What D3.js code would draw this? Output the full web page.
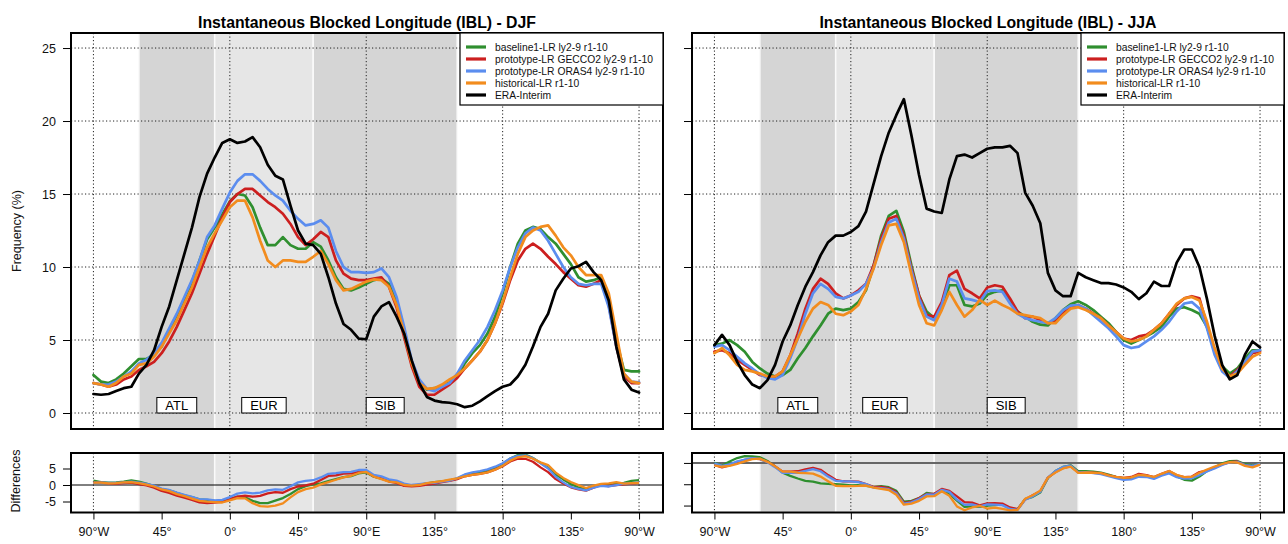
<!DOCTYPE html>
<html>
<head>
<meta charset="utf-8">
<script src="https://cdn.jsdelivr.net/npm/d3@7"></script>
<style>
  body { margin: 0; background: #fff; }
  svg { display: block; font-family: "Liberation Sans", Arial, Helvetica, sans-serif; }
</style>
</head>
<body>
<svg id="chart" width="1288" height="544"></svg>
<script>
// Longitude grid of the IBL curves: 90°W eastward round to 90°W, every 5°
const lon = d3.range(-90, 275, 5);

// Winter (DJF) blocking frequency, %
const djfBaseline = [2.6,2.15,2.05,2.3,2.7,3.2,3.7,3.7,4.0,4.55,
  5.7,6.7,7.8,9.0,10.45,11.9,12.7,13.6,14.5,15.0,
  14.9,14.1,12.7,11.5,11.5,12.05,11.5,11.25,11.25,11.7,
  11.4,10.45,9.3,8.5,8.4,8.6,8.85,9.1,9.2,8.85,
  7.6,5.45,3.4,2.05,1.6,1.7,1.85,2.1,2.5,3.4,
  4.1,4.65,5.45,6.6,8.2,10.0,11.6,12.5,12.75,12.6,
  12.05,11.6,10.9,10.2,9.3,9.0,9.1,9.3,7.7,5.0,
  2.95,2.85,2.85];
const djfGecco2 = [2.05,1.95,1.8,1.95,2.3,2.5,2.95,3.2,3.5,4.1,
  4.9,5.9,7.05,8.2,9.55,10.9,12.15,13.4,14.45,15.0,
  15.35,15.35,14.9,14.45,14.1,13.65,12.95,12.05,11.5,11.9,
  12.4,12.05,10.45,9.55,9.2,9.1,9.1,9.2,9.3,8.65,
  7.25,5.2,3.2,1.8,1.25,1.25,1.6,1.95,2.4,3.05,
  3.6,4.2,5.0,6.15,7.5,9.1,10.45,11.25,11.6,11.25,
  10.7,10.2,9.65,9.2,8.75,8.65,8.85,9.1,7.4,4.55,
  2.5,2.05,2.05];
const djfOras4 = [2.05,1.95,1.95,2.15,2.5,2.85,3.4,3.65,4.1,4.8,
  5.8,6.8,7.95,9.1,10.45,12.05,12.85,14.0,15.1,15.9,
  16.35,16.35,15.9,15.35,14.9,14.55,13.85,13.3,12.85,12.95,
  13.2,12.7,11.1,10.0,9.65,9.65,9.6,9.65,9.9,9.3,
  7.95,5.9,3.6,2.3,1.65,1.5,1.8,2.05,2.7,3.6,
  4.3,5.0,5.9,7.05,8.4,10.0,11.35,12.3,12.7,12.5,
  11.8,10.9,10.0,9.3,8.85,8.75,8.85,8.85,7.25,4.55,
  2.7,2.15,2.1];
const djfHistorical = [2.05,1.95,1.8,2.05,2.5,2.7,3.3,3.4,3.85,4.55,
  5.45,6.35,7.5,8.6,10.0,11.35,12.3,13.2,14.1,14.55,
  14.55,13.4,11.8,10.45,10.0,10.45,10.45,10.35,10.35,10.7,
  11.1,10.2,9.1,8.4,8.5,8.75,9.0,9.15,9.1,8.65,
  7.4,5.45,3.4,2.05,1.65,1.7,1.95,2.3,2.6,3.05,
  3.6,4.2,5.0,6.15,7.6,9.3,10.9,12.05,12.5,12.75,
  12.85,12.15,11.35,10.8,10.0,9.45,9.45,9.45,8.2,5.45,
  2.7,2.15,2.05];
const djfEra = [1.3,1.25,1.3,1.5,1.7,1.8,2.7,3.3,4.3,5.9,
  7.3,9.1,10.9,12.7,14.8,16.4,17.5,18.5,18.75,18.5,
  18.6,18.9,18.2,17.0,16.25,16.0,14.2,12.5,11.6,11.5,
  10.9,9.3,7.5,6.1,5.7,5.1,5.05,6.6,7.3,7.6,
  6.6,5.45,3.6,2.05,1.1,0.85,0.75,0.7,0.6,0.4,
  0.5,0.8,1.15,1.5,1.8,1.95,2.5,3.3,4.55,5.9,
  6.8,8.4,9.2,9.9,10.05,10.35,9.65,9.1,7.7,4.55,
  2.3,1.6,1.4];

// Summer (JJA) blocking frequency, %
const jjaBaseline = [4.65,4.75,5.0,4.65,4.2,3.5,3.05,2.7,2.5,2.6,
  2.95,3.75,4.45,5.25,6.0,6.8,7.15,7.05,7.15,7.6,
  8.4,10.1,12.15,13.5,13.85,12.4,10.1,8.05,6.95,6.5,
  7.15,8.75,8.75,7.4,7.3,7.5,8.1,8.3,8.4,7.6,
  6.95,6.6,6.25,6.05,6.0,6.5,7.05,7.45,7.65,7.4,
  7.05,6.6,6.15,5.55,5.0,4.75,5.0,5.25,5.55,5.9,
  6.6,7.15,7.25,7.05,6.8,5.9,4.2,3.2,2.7,3.05,
  3.75,4.3,4.3];
const jjaGecco2 = [4.2,4.3,4.1,3.65,3.3,2.95,2.6,2.5,2.5,2.85,
  3.95,5.45,7.15,8.5,9.2,8.85,8.2,7.85,8.05,8.4,
  8.85,10.1,11.95,13.3,13.5,12.15,9.9,8.05,6.7,6.6,
  7.6,9.45,9.75,8.5,8.2,7.85,8.6,8.75,8.65,7.85,
  6.95,6.5,6.6,6.35,6.15,6.25,6.8,7.25,7.4,7.15,
  6.8,6.5,6.0,5.55,5.1,5.0,5.25,5.35,5.7,6.15,
  6.8,7.4,7.85,8.0,7.85,6.0,4.2,2.95,2.5,2.95,
  3.5,4.1,4.2];
const jjaOras4 = [4.55,4.65,4.3,3.85,3.4,3.05,2.65,2.4,2.3,2.6,
  3.75,5.1,6.8,8.2,8.85,8.5,7.95,7.85,8.05,8.3,
  8.85,9.9,11.7,13.05,13.3,11.95,9.75,7.85,6.6,6.35,
  7.4,9.2,9.0,7.85,7.75,7.6,8.35,8.4,8.3,7.5,
  6.8,6.5,6.35,6.25,6.15,6.5,7.05,7.35,7.4,7.15,
  6.7,6.25,5.8,5.25,4.65,4.45,4.55,4.9,5.25,5.7,
  6.25,6.95,7.5,7.6,7.15,5.8,4.0,2.85,2.4,2.85,
  3.5,4.2,4.3];
const jjaHistorical = [4.1,4.45,3.95,3.3,2.95,2.85,2.7,2.5,2.5,2.85,
  3.95,5.1,6.25,7.15,7.6,7.4,6.8,6.7,6.95,7.4,
  8.5,9.9,11.5,12.85,12.95,11.7,9.45,7.4,6.15,6.0,
  7.05,8.3,7.4,6.6,7.05,7.75,7.4,7.7,7.4,7.15,
  6.8,6.7,6.6,6.5,6.15,6.15,6.7,7.15,7.25,7.05,
  6.8,6.5,6.0,5.55,5.1,4.9,5.0,5.25,5.7,6.15,
  6.8,7.5,7.85,7.95,7.7,6.25,4.45,3.05,2.5,2.7,
  3.3,3.85,4.1];
const jjaEra = [4.65,5.35,4.65,3.5,2.6,1.95,1.7,2.25,3.3,4.9,
  6.0,7.4,8.65,9.65,10.8,11.7,12.15,12.15,12.4,12.8,
  13.8,15.7,17.6,19.2,20.4,21.5,19.0,16.3,14.0,13.8,
  13.7,16.0,17.6,17.7,17.5,17.8,18.1,18.2,18.2,18.3,
  17.8,15.1,14.2,13.0,9.6,8.4,8.0,8.0,9.6,9.3,
  9.1,8.9,8.9,8.8,8.6,8.3,7.8,8.2,9.0,8.7,
  8.7,10.3,11.2,11.2,10.0,7.8,5.3,3.3,2.3,2.6,
  4.0,4.9,4.5];

const seriesNames = ["baseline1-LR ly2-9 r1-10", "prototype-LR GECCO2 ly2-9 r1-10",
  "prototype-LR ORAS4 ly2-9 r1-10", "historical-LR r1-10", "ERA-Interim"];

// Sector boxes
const regionNames = ["ATL", "EUR", "SIB"];
const regionWest = [-60, -10, 55];
const regionEast = [-10, 55, 150];

// Axis ticks
const xTickLon = [-90, -45, 0, 45, 90, 135, 180, 225, 270];
const xTickLabels = ["90°W", "45°", "0°", "45°", "90°E", "135°", "180°", "135°", "90°W"];
const gridLon = [-90, 0, 90, 180, 270];
const yTicksMain = [0, 5, 10, 15, 20, 25];
const yTicksDiffDJF = [-5, 0, 5];
const yTicksDiffJJA = [-10, -5, 0];

const colors = ["#2f8f2f", "#cc1f1f", "#5b8def", "#f28c1e", "#000000"];
const regionFill = ["#d5d5d5", "#e6e6e6", "#d5d5d5"];

const svg = d3.select("#chart");
const FRAME_W = 592;
const MAIN_TOP = 33, MAIN_BOT = 429, DIFF_TOP = 453, DIFF_BOT = 512.5;

function drawPanel(p) {
  const left = p.left, right = left + FRAME_W;
  const x = d3.scaleLinear().domain([-104.8, 285.8]).range([left, right]);
  const y = d3.scaleLinear().domain([-1.096, 26.03]).range([MAIN_BOT, MAIN_TOP]);
  const yd = d3.scaleLinear().domain(p.diffDomain).range([DIFF_BOT, DIFF_TOP]);
  const g = svg.append("g");

  // clip regions for the curves
  const defs = svg.append("defs");
  defs.append("clipPath").attr("id", p.id + "-main")
    .append("rect").attr("x", left).attr("y", MAIN_TOP).attr("width", FRAME_W).attr("height", MAIN_BOT - MAIN_TOP);
  defs.append("clipPath").attr("id", p.id + "-diff")
    .append("rect").attr("x", left).attr("y", DIFF_TOP).attr("width", FRAME_W).attr("height", DIFF_BOT - DIFF_TOP);

  const panels = [
    { top: MAIN_TOP, bot: MAIN_BOT },
    { top: DIFF_TOP, bot: DIFF_BOT }
  ];

  // sector shading
  panels.forEach(pn => {
    g.append("g").selectAll("rect").data(regionNames).join("rect")
      .attr("x", (d, i) => x(regionWest[i]))
      .attr("width", (d, i) => x(regionEast[i]) - x(regionWest[i]))
      .attr("y", pn.top).attr("height", pn.bot - pn.top)
      .attr("fill", (d, i) => regionFill[i])
      .attr("stroke", "#fafafa").attr("stroke-width", 1.5);
  });

  // dotted grid
  const grid = g.append("g").attr("stroke", "#222").attr("stroke-width", 1)
    .attr("stroke-dasharray", "1.2,2.3").attr("fill", "none");
  grid.selectAll(".hg").data(yTicksMain).join("line")
    .attr("x1", left).attr("x2", right).attr("y1", d => y(d)).attr("y2", d => y(d));
  panels.forEach(pn => {
    grid.append("g").selectAll("line").data(gridLon).join("line")
      .attr("x1", d => x(d)).attr("x2", d => x(d)).attr("y1", pn.top).attr("y2", pn.bot);
  });

  // zero line of the difference panel
  g.append("line").attr("x1", left).attr("x2", right)
    .attr("y1", yd(0)).attr("y2", yd(0))
    .attr("stroke", p.zeroColor).attr("stroke-width", p.zeroWidth);

  // sector labels
  const lab = g.append("g");
  regionNames.forEach((name, i) => {
    const cx = x((regionWest[i] + regionEast[i]) / 2);
    const box = lab.append("rect").attr("fill", "#fff").attr("stroke", "#000").attr("stroke-width", 1);
    const t = lab.append("text").attr("x", cx).attr("y", y(0) - 3.5)
      .attr("text-anchor", "middle").attr("font-size", 13).text(name);
    const w = t.node().getComputedTextLength() + 17;
    box.attr("x", cx - w / 2).attr("width", w).attr("y", y(0) - 15.5).attr("height", 15.5);
  });

  // curves
  const line = d3.line().x((d, i) => x(lon[i])).y(d => y(d));
  const dline = d3.line().x((d, i) => x(lon[i])).y(d => yd(d));
  const era = p.series[4];
  const diffs = p.series.slice(0, 4).map(s => s.map((v, i) => v - era[i]));

  g.append("g").attr("clip-path", `url(#${p.id}-main)`)
    .selectAll("path").data(p.series).join("path")
    .attr("d", line).attr("fill", "none")
    .attr("stroke", (d, i) => colors[i]).attr("stroke-width", 2.7)
    .attr("stroke-linejoin", "round").attr("stroke-linecap", "round");

  g.append("g").attr("clip-path", `url(#${p.id}-diff)`)
    .selectAll("path").data(diffs).join("path")
    .attr("d", dline).attr("fill", "none")
    .attr("stroke", (d, i) => colors[i]).attr("stroke-width", 2.3)
    .attr("stroke-linejoin", "round");

  // frames
  panels.forEach(pn => {
    g.append("rect").attr("x", left).attr("y", pn.top)
      .attr("width", FRAME_W).attr("height", pn.bot - pn.top)
      .attr("fill", "none").attr("stroke", "#000").attr("stroke-width", 2);
  });

  // axes
  const yAxis = g.append("g").attr("transform", `translate(${left},0)`)
    .call(d3.axisLeft(y).tickValues(yTicksMain).tickSize(8).tickPadding(7)
      .tickFormat(p.labels ? d => String(d) : ""));
  const ydAxis = g.append("g").attr("transform", `translate(${left},0)`)
    .call(d3.axisLeft(yd).tickValues(p.diffTicks).tickSize(8).tickPadding(7)
      .tickFormat(p.labels ? d => String(d) : ""));
  const xAxis = g.append("g").attr("transform", `translate(0,${DIFF_BOT})`)
    .call(d3.axisBottom(x).tickValues(xTickLon).tickSize(7).tickPadding(8)
      .tickFormat((d, i) => xTickLabels[i]));
  [yAxis, ydAxis, xAxis].forEach(a => {
    a.select(".domain").remove();
    a.attr("font-family", null).attr("font-size", null);
    a.selectAll("text").attr("font-size", 12.5).attr("fill", "#111");
    a.selectAll("line").attr("stroke", "#000");
  });

  // title
  g.append("text").attr("x", (left + right) / 2).attr("y", 27.5)
    .attr("text-anchor", "middle").attr("font-size", 15.8).attr("font-weight", "bold")
    .text(p.title);

  // legend
  const lg = g.append("g").attr("transform", `translate(${right - 203},${MAIN_TOP})`);
  lg.append("rect").attr("width", 203).attr("height", 72)
    .attr("fill", "#fff").attr("stroke", "#000").attr("stroke-width", 1.2);
  seriesNames.forEach((name, i) => {
    const ry = 14 + i * 12;
    lg.append("line").attr("x1", 6).attr("x2", 26).attr("y1", ry).attr("y2", ry)
      .attr("stroke", colors[i]).attr("stroke-width", 3.2);
    lg.append("text").attr("x", 35).attr("y", ry).attr("dy", "0.36em")
      .attr("font-size", 10.3).attr("fill", "#111").text(name);
  });
}

drawPanel({
  id: "djf", left: 71, title: "Instantaneous Blocked Longitude (IBL) - DJF",
  series: [djfBaseline, djfGecco2, djfOras4, djfHistorical, djfEra],
  diffDomain: [-8.33, 9.7], diffTicks: yTicksDiffDJF, labels: true,
  zeroColor: "#000", zeroWidth: 1
});
drawPanel({
  id: "jja", left: 692, title: "Instantaneous Blocked Longitude (IBL) - JJA",
  series: [jjaBaseline, jjaGecco2, jjaOras4, jjaHistorical, jjaEra],
  diffDomain: [-11.63, 2.33], diffTicks: yTicksDiffJJA, labels: false,
  zeroColor: "#666", zeroWidth: 2
});

// axis titles
svg.append("text").attr("transform", "translate(21,231) rotate(-90)")
  .attr("text-anchor", "middle").attr("font-size", 12.5).attr("fill", "#111").text("Frequency (%)");
svg.append("text").attr("transform", "translate(20,481) rotate(-90)")
  .attr("text-anchor", "middle").attr("font-size", 12.5).attr("fill", "#111").text("Differences");
</script>
</body>
</html>
